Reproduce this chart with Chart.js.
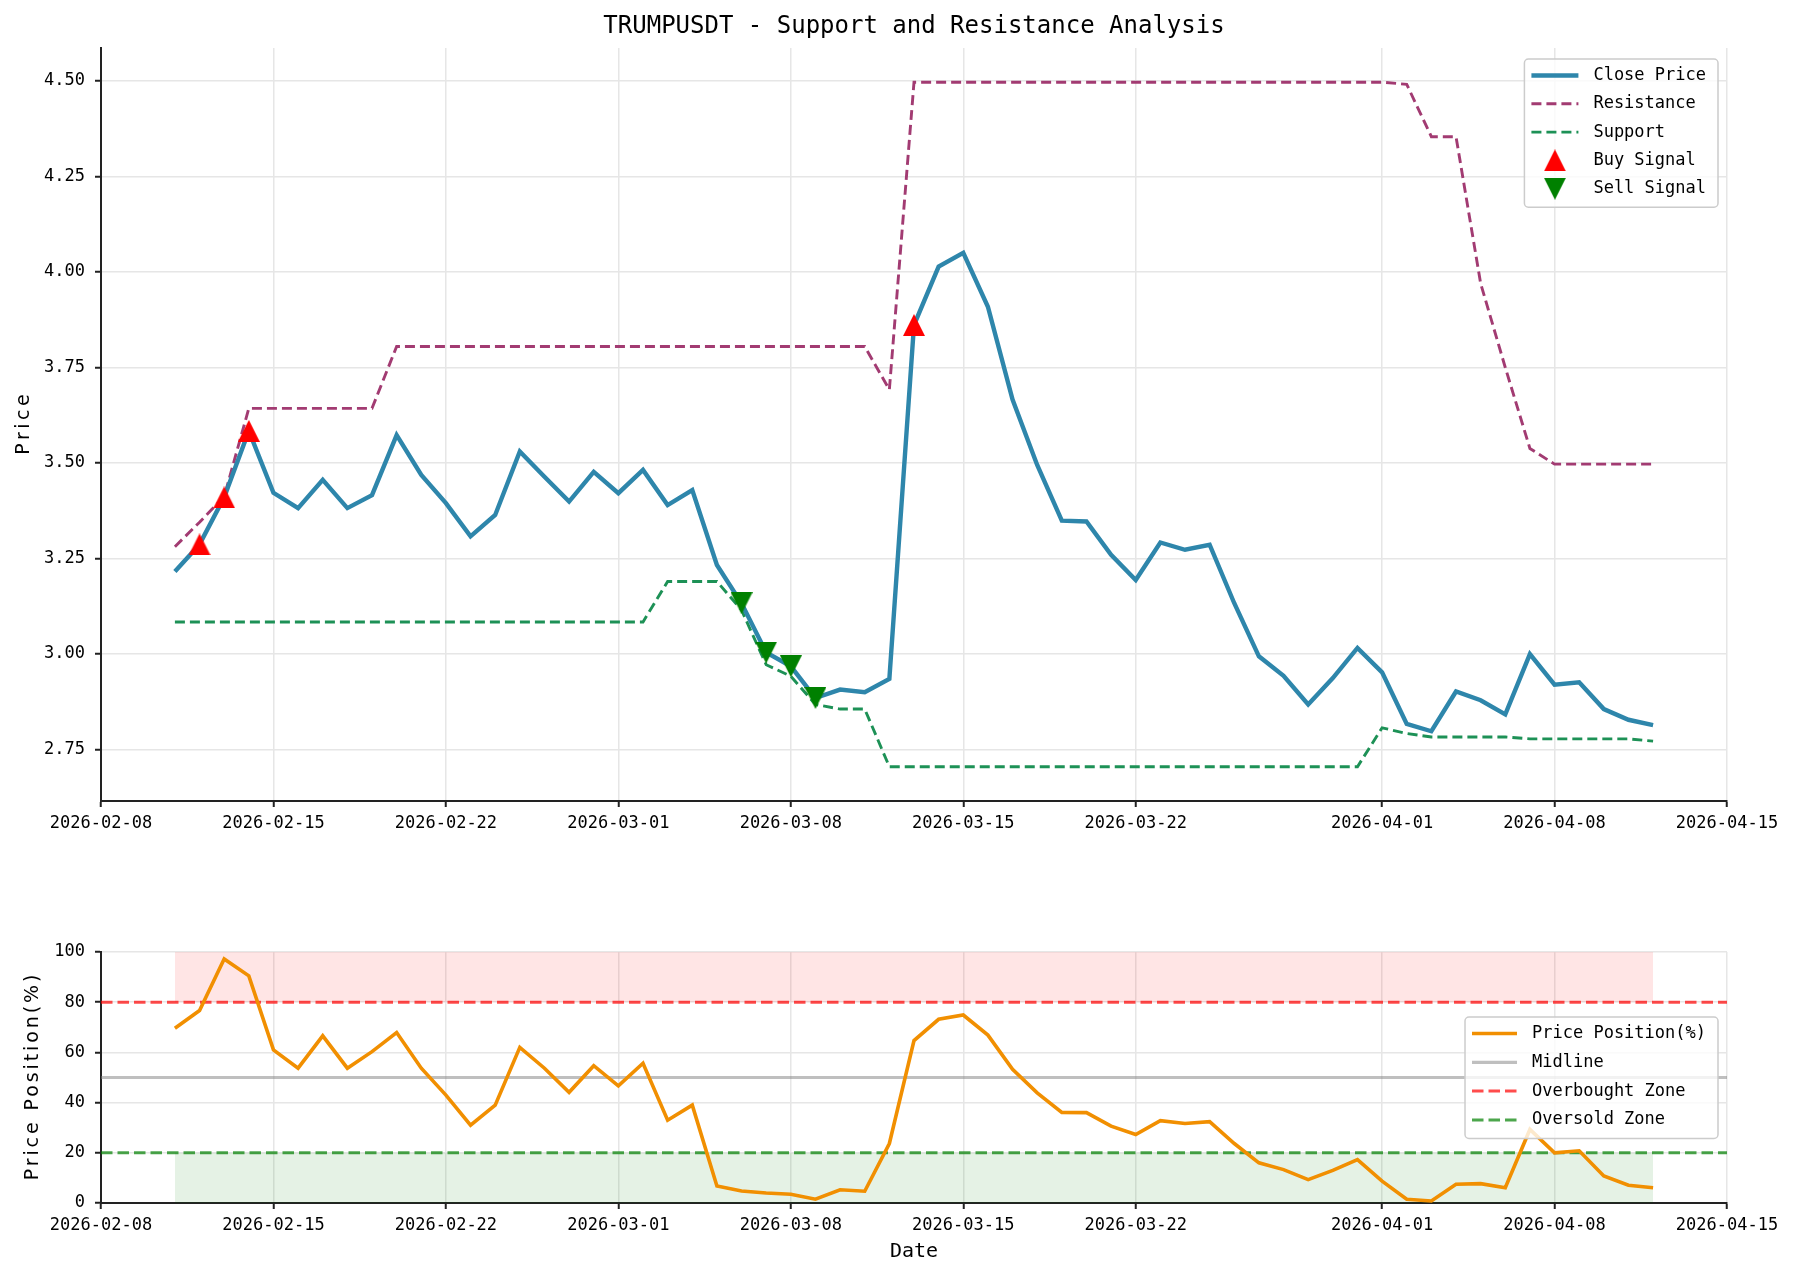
<!DOCTYPE html>
<html>
<head>
<meta charset="utf-8">
<title>TRUMPUSDT - Support and Resistance Analysis</title>
<script src="https://cdn.jsdelivr.net/npm/chart.js@4.4.1/dist/chart.umd.min.js"></script>
<style>
  html, body { margin: 0; padding: 0; background: #fff; }
  #wrap { position: relative; width: 1795px; height: 1280px; }
  #priceChart { position: absolute; left: 0; top: 0; }
  #posChart { position: absolute; left: 0; top: 870px; }
</style>
</head>
<body>
<div id="wrap">
  <canvas id="priceChart" width="1795" height="870"></canvas>
  <canvas id="posChart" width="1795" height="410"></canvas>
</div>
<script>
// day 0 of the date axis
const START = '2026-02-08'

const dates = [
  '2026-02-11','2026-02-12','2026-02-13','2026-02-14','2026-02-15','2026-02-16','2026-02-17','2026-02-18','2026-02-19','2026-02-20',
  '2026-02-21','2026-02-22','2026-02-23','2026-02-24','2026-02-25','2026-02-26','2026-02-27','2026-02-28','2026-03-01','2026-03-02',
  '2026-03-03','2026-03-04','2026-03-05','2026-03-06','2026-03-07','2026-03-08','2026-03-09','2026-03-10','2026-03-11','2026-03-12',
  '2026-03-13','2026-03-14','2026-03-15','2026-03-16','2026-03-17','2026-03-18','2026-03-19','2026-03-20','2026-03-21','2026-03-22',
  '2026-03-23','2026-03-24','2026-03-25','2026-03-26','2026-03-27','2026-03-28','2026-03-29','2026-03-30','2026-03-31','2026-04-01',
  '2026-04-02','2026-04-03','2026-04-04','2026-04-05','2026-04-06','2026-04-07','2026-04-08','2026-04-09','2026-04-10','2026-04-11',
  '2026-04-12'
]

const closePrice = [
  3.216, 3.287, 3.410, 3.584, 3.422, 3.382, 3.456, 3.382, 3.416, 3.573,
  3.469, 3.395, 3.308, 3.364, 3.530, 3.464, 3.399, 3.477, 3.421, 3.482,
  3.390, 3.429, 3.233, 3.133, 3.004, 2.968, 2.885, 2.907, 2.900, 2.935,
  3.861, 4.014, 4.050, 3.909, 3.666, 3.495, 3.349, 3.347, 3.260, 3.194,
  3.292, 3.273, 3.286, 3.133, 2.994, 2.943, 2.868, 2.937, 3.016, 2.952,
  2.817, 2.798, 2.902, 2.879, 2.842, 3.000, 2.920, 2.926, 2.856, 2.828,
  2.814
]

const resistance = [
  3.281, 3.345, 3.412, 3.643, 3.643, 3.643, 3.643, 3.643, 3.643, 3.805,
  3.805, 3.805, 3.805, 3.805, 3.805, 3.805, 3.805, 3.805, 3.805, 3.805,
  3.805, 3.805, 3.805, 3.805, 3.805, 3.805, 3.805, 3.805, 3.805, 3.692,
  4.4965, 4.4965, 4.4965, 4.4965, 4.4965, 4.4965, 4.4965, 4.4965, 4.4965, 4.4965,
  4.4965, 4.4965, 4.4965, 4.4965, 4.4965, 4.4965, 4.4965, 4.4965, 4.4965, 4.4965,
  4.491, 4.354, 4.354, 3.970, 3.750, 3.538, 3.497, 3.497, 3.497, 3.497,
  3.497
]

const support = [
  3.084, 3.084, 3.084, 3.084, 3.084, 3.084, 3.084, 3.084, 3.084, 3.084,
  3.084, 3.084, 3.084, 3.084, 3.084, 3.084, 3.084, 3.084, 3.084, 3.084,
  3.190, 3.190, 3.190, 3.115, 2.972, 2.942, 2.868, 2.856, 2.856, 2.705,
  2.705, 2.705, 2.705, 2.705, 2.705, 2.705, 2.705, 2.705, 2.705, 2.705,
  2.705, 2.705, 2.705, 2.705, 2.705, 2.705, 2.705, 2.705, 2.705, 2.807,
  2.792, 2.783, 2.783, 2.783, 2.783, 2.778, 2.778, 2.778, 2.778, 2.778,
  2.772
]

const pricePosition = [
  69.6, 76.7, 97.2, 90.5, 61.0, 53.7, 66.6, 53.7, 60.3, 67.9,
  53.7, 43.0, 31.0, 39.0, 62.0, 53.7, 44.1, 54.7, 46.7, 55.7,
  33.0, 39.0, 6.8, 4.8, 4.0, 3.5, 1.5, 5.3, 4.7, 23.7,
  64.7, 73.2, 74.9, 66.9, 53.3, 43.9, 36.1, 36.0, 30.6, 27.3,
  32.8, 31.7, 32.4, 23.7, 16.0, 13.3, 9.3, 13.0, 17.3, 8.7,
  1.5, 0.8, 7.5, 7.7, 6.1, 29.3, 20.0, 20.8, 10.8, 7.1,
  6.1
]

const buyDates = ['2026-02-12', '2026-02-13', '2026-02-14', '2026-03-13']
const buyPrices = [3.287, 3.410, 3.584, 3.861]
const sellDates = ['2026-03-06', '2026-03-07', '2026-03-08', '2026-03-09']
const sellPrices = [3.133, 3.004, 2.968, 2.885]

const dateTicks = ['2026-02-08','2026-02-15','2026-02-22','2026-03-01','2026-03-08',
                   '2026-03-15','2026-03-22','2026-04-01','2026-04-08','2026-04-15']
const priceTicks = [2.75, 3.00, 3.25, 3.50, 3.75, 4.00, 4.25, 4.50]
const positionTicks = [0, 20, 40, 60, 80, 100]

const OVERBOUGHT = 80
const OVERSOLD = 20
const MIDLINE = 50

function dayOf(s) {
  return (Date.parse(s) - Date.parse(START)) / 86400000
}
function pts(xs, ys) {
  return xs.map((d, i) => ({ x: dayOf(d), y: ys[i] }))
}

// axis limits like matplotlib: data range + 5% margin
const dayVals = dates.map(dayOf)
const dMin = Math.min(...dayVals), dMax = Math.max(...dayVals)
const xMin = dMin - (dMax - dMin) * 0.05
const xMax = dMax + (dMax - dMin) * 0.05
const allPrices = closePrice.concat(resistance, support)
const pLo = Math.min(...allPrices), pHi = Math.max(...allPrices)
const yMin = pLo - (pHi - pLo) * 0.05
const yMax = pHi + (pHi - pLo) * 0.05
const tickDays = dateTicks.map(dayOf)

function flat(level, xs) {
  return xs.map(x => ({ x: x, y: level }))
}

function triangleMarker(color, down) {
  const size = 22
  const c = document.createElement('canvas')
  c.width = size
  c.height = size
  const g = c.getContext('2d')
  g.fillStyle = color
  g.beginPath()
  if (down) {
    g.moveTo(0, 0); g.lineTo(size, 0); g.lineTo(size / 2, size)
  } else {
    g.moveTo(size / 2, 0); g.lineTo(size, size); g.lineTo(0, size)
  }
  g.closePath()
  g.fill()
  return c
}
const buyMarker = triangleMarker('#ff0000', false)
const sellMarker = triangleMarker('#008000', true)

Chart.defaults.font.family = "'DejaVu Sans Mono', monospace"
Chart.defaults.font.size = 17
Chart.defaults.color = '#000'
Chart.defaults.animation = false

const GRID = { color: '#e6e6e6', lineWidth: 1.5, tickLength: 6, tickColor: '#222', tickWidth: 2 }
const BORDER = { color: '#222', width: 2 }

// legend box in the top right corner of the plot
const boxLegend = {
  id: 'boxLegend',
  afterDraw(chart, args, opts) {
    if (!opts.items) return
    const ctx = chart.ctx
    const area = chart.chartArea
    const ds = chart.data.datasets
    ctx.save()
    ctx.font = "17px 'DejaVu Sans Mono', monospace"
    const textW = Math.max(...opts.items.map(i => ctx.measureText(ds[i].label).width))
    const w = 7 + opts.handleLen + 15 + textW + 12
    const h = 16.5 + opts.rowH * (opts.items.length - 1) + 18.5
    const right = area.right - 9
    const left = right - w
    const top = area.top + opts.offsetTop
    ctx.beginPath()
    ctx.roundRect(left, top, w, h, 4)
    ctx.fillStyle = 'rgba(255,255,255,0.8)'
    ctx.fill()
    ctx.lineWidth = 1.5
    ctx.strokeStyle = '#cccccc'
    ctx.stroke()
    opts.items.forEach((idx, k) => {
      const d = ds[idx]
      const cy = top + 16.5 + k * opts.rowH
      const hx = left + 7
      if (d.showLine === false) {
        const img = d.pointStyle
        ctx.drawImage(img, hx + opts.handleLen / 2 - img.width / 2, cy - img.height / 2)
      } else {
        ctx.beginPath()
        ctx.setLineDash(d.borderDash || [])
        ctx.lineWidth = d.borderWidth
        ctx.strokeStyle = d.borderColor
        ctx.moveTo(hx, cy)
        ctx.lineTo(hx + opts.handleLen, cy)
        ctx.stroke()
        ctx.setLineDash([])
      }
      ctx.fillStyle = '#000'
      ctx.textBaseline = 'middle'
      ctx.textAlign = 'left'
      ctx.fillText(d.label, hx + opts.handleLen + 15, cy)
    })
    ctx.restore()
  }
}

// rotated y-axis title with letter spacing, and the figure title
const extraText = {
  id: 'extraText',
  afterDraw(chart, args, opts) {
    const ctx = chart.ctx
    const area = chart.chartArea
    ctx.save()
    if (opts.title) {
      ctx.font = "24px 'DejaVu Sans Mono', monospace"
      ctx.fillStyle = '#000'
      ctx.textAlign = 'center'
      ctx.textBaseline = 'middle'
      ctx.fillText(opts.title, (area.left + area.right) / 2, 27)
    }
    if (opts.yTitle) {
      ctx.translate(opts.yTitleX, (area.top + area.bottom) / 2)
      ctx.rotate(-Math.PI / 2)
      ctx.font = "19px 'DejaVu Sans', sans-serif"
      ctx.letterSpacing = opts.spacing + 'px'
      ctx.fillStyle = '#000'
      ctx.textAlign = 'center'
      ctx.textBaseline = 'middle'
      ctx.fillText(opts.yTitle, opts.spacing / 2, 0)
    }
    ctx.restore()
  }
}

function xScale(axisHeight, title) {
  return {
    type: 'linear',
    min: xMin,
    max: xMax,
    afterBuildTicks: s => { s.ticks = tickDays.map(v => ({ value: v })) },
    afterFit: s => { s.height = axisHeight },
    ticks: {
      autoSkip: false, maxRotation: 0, padding: 6,
      callback: v => dateTicks[tickDays.indexOf(v)]
    },
    grid: GRID,
    border: BORDER,
    title: title ? { display: true, text: title, font: { size: 20 }, padding: { top: 0, bottom: 16 } } : { display: false }
  }
}

// ---------- price chart ----------
new Chart(document.getElementById('priceChart'), {
  type: 'line',
  data: {
    datasets: [
      { label: 'Buy Signal', data: pts(buyDates, buyPrices), showLine: false,
        pointStyle: buyMarker, pointRadius: 11, borderWidth: 0, backgroundColor: '#ff0000' },
      { label: 'Sell Signal', data: pts(sellDates, sellPrices), showLine: false,
        pointStyle: sellMarker, pointRadius: 11, borderWidth: 0, backgroundColor: '#008000' },
      { label: 'Close Price', data: pts(dates, closePrice), borderColor: '#2E86AB',
        borderWidth: 4.4, pointRadius: 0, tension: 0 },
      { label: 'Resistance', data: pts(dates, resistance), borderColor: '#A23B72',
        borderWidth: 2.9, borderDash: [10, 5], pointRadius: 0 },
      { label: 'Support', data: pts(dates, support), borderColor: '#1d9156',
        borderWidth: 2.9, borderDash: [10, 5], pointRadius: 0 }
    ]
  },
  options: {
    responsive: false,
    devicePixelRatio: 1,
    events: [],
    layout: { padding: { top: 48, right: 68, left: 0, bottom: 0 } },
    scales: {
      x: xScale(69, null),
      y: {
        min: yMin, max: yMax,
        afterBuildTicks: s => { s.ticks = priceTicks.map(v => ({ value: v })) },
        afterFit: s => { s.width = 101 },
        ticks: { padding: 10, callback: v => v.toFixed(2) },
        grid: GRID,
        border: BORDER
      }
    },
    plugins: {
      legend: { display: false },
      tooltip: { enabled: false },
      boxLegend: { items: [2, 3, 4, 0, 1], handleLen: 47, rowH: 28.3, offsetTop: 11 },
      extraText: { title: 'TRUMPUSDT - Support and Resistance Analysis', yTitle: 'Price', yTitleX: 24, spacing: 3.5 }
    }
  },
  plugins: [boxLegend, extraText]
})

// ---------- price position chart ----------
const fullSpan = [xMin, xMax]
new Chart(document.getElementById('posChart'), {
  type: 'line',
  data: {
    datasets: [
      { label: 'Price Position(%)', data: pts(dates, pricePosition), borderColor: '#F18F01',
        borderWidth: 3.6, pointRadius: 0 },
      { label: 'Midline', data: flat(MIDLINE, fullSpan), borderColor: 'rgba(128,128,128,0.5)',
        borderWidth: 3.2, pointRadius: 0 },
      { label: 'Overbought Zone', data: flat(OVERBOUGHT, fullSpan), borderColor: 'rgba(255,0,0,0.7)',
        borderWidth: 3, borderDash: [11.5, 5], pointRadius: 0 },
      { label: 'Oversold Zone', data: flat(OVERSOLD, fullSpan), borderColor: 'rgba(0,128,0,0.7)',
        borderWidth: 3, borderDash: [11.5, 5], pointRadius: 0 },
      { label: 'overbought fill', data: flat(100, dayVals), borderColor: 'transparent', borderWidth: 0,
        pointRadius: 0, fill: { value: OVERBOUGHT }, backgroundColor: 'rgba(255,0,0,0.1)' },
      { label: 'oversold fill', data: flat(OVERSOLD, dayVals), borderColor: 'transparent', borderWidth: 0,
        pointRadius: 0, fill: { value: 0 }, backgroundColor: 'rgba(0,128,0,0.1)' }
    ]
  },
  options: {
    responsive: false,
    devicePixelRatio: 1,
    events: [],
    layout: { padding: { top: 82, right: 68, left: 0, bottom: 0 } },
    scales: {
      x: xScale(77, 'Date'),
      y: {
        min: 0, max: 100,
        afterBuildTicks: s => { s.ticks = positionTicks.map(v => ({ value: v })) },
        afterFit: s => { s.width = 101 },
        ticks: { padding: 10 },
        grid: GRID,
        border: BORDER
      }
    },
    plugins: {
      legend: { display: false },
      tooltip: { enabled: false },
      boxLegend: { items: [0, 1, 2, 3], handleLen: 45, rowH: 28.8, offsetTop: 65 },
      extraText: { yTitle: 'Price Position(%)', yTitleX: 33, spacing: 2.9 }
    }
  },
  plugins: [boxLegend, extraText]
})
</script>
</body>
</html>
